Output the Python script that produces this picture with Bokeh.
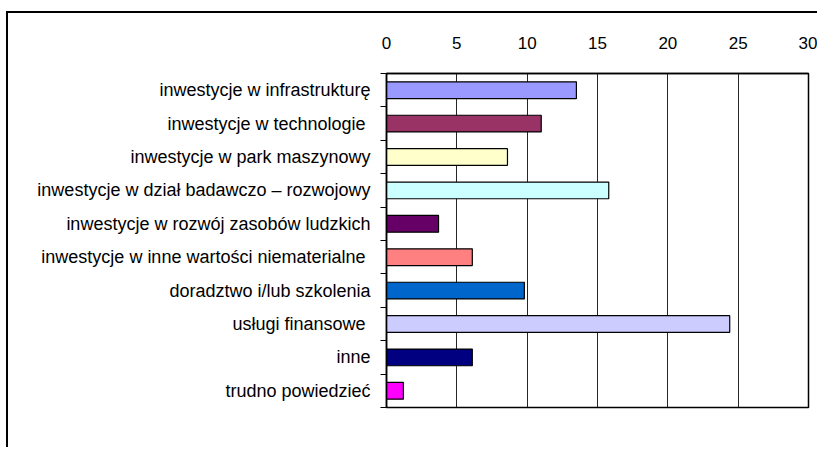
from bokeh.plotting import figure
from bokeh.models import ColumnDataSource, FixedTicker, Range1d
from bokeh.embed import file_html
from bokeh.resources import INLINE

categories = [
    "inwestycje w infrastrukturę",
    "inwestycje w technologie ",
    "inwestycje w park maszynowy",
    "inwestycje w dział badawczo – rozwojowy",
    "inwestycje w rozwój zasobów ludzkich",
    "inwestycje w inne wartości niematerialne ",
    "doradztwo i/lub szkolenia",
    "usługi finansowe ",
    "inne",
    "trudno powiedzieć",
]
values = [13.5, 11.0, 8.6, 15.8, 3.7, 6.1, 9.8, 24.4, 6.1, 1.2]
colors = ["#9999FF", "#993366", "#FFFFCC", "#CCFFFF", "#660066",
          "#FF8080", "#0066CC", "#CCCCFF", "#000080", "#FF00FF"]
x_ticks = [0, 5, 10, 15, 20, 25, 30]

n = len(categories)
pos = list(range(1, n + 1))
src = ColumnDataSource(dict(y=pos, v=values, c=colors, name=categories))

FONT = "Liberation Sans"

p = figure(width=811, height=436, output_backend="svg", toolbar_location=None,
           x_range=Range1d(0, 30), y_range=Range1d(n + 0.5, 0.5),
           x_axis_location="above",
           min_border_left=378, min_border_right=11,
           min_border_top=60, min_border_bottom=42)
# outer chart-area frame: only its top and left edges fall inside the window
p.styles = {"margin-left": "6px", "margin-top": "11px",
            "border-left": "2px solid black", "border-top": "2px solid black"}

p.hbar(y="y", right="v", left=0, height=0.5, source=src,
       fill_color="c", line_color="black", line_width=1.2)

p.outline_line_color = "black"
p.outline_line_width = 1.5

xa = p.xaxis[0]
xa.ticker = FixedTicker(ticks=x_ticks)
xa.major_tick_line_color = None
xa.minor_tick_line_color = None
xa.axis_line_color = "black"
xa.axis_line_width = 1.5
xa.major_label_text_font = FONT
xa.major_label_text_font_size = "17px"
xa.major_label_text_color = "black"
xa.major_label_standoff = 19

ya = p.yaxis[0]
ya.ticker = FixedTicker(ticks=pos, minor_ticks=[i + 0.5 for i in range(n + 1)])
ya.major_label_overrides = {k: lab for k, lab in zip(pos, categories)}
ya.major_tick_line_color = None
ya.major_tick_out = 0
ya.major_tick_in = 0
ya.minor_tick_line_color = "black"
ya.minor_tick_out = 6
ya.minor_tick_in = 0
ya.minor_tick_line_width = 1.2
ya.axis_line_color = "black"
ya.axis_line_width = 1.5
ya.major_label_text_font = FONT
ya.major_label_text_font_size = "18px"
ya.major_label_text_color = "black"
ya.major_label_standoff = 10

p.ygrid.grid_line_color = None
p.xgrid.ticker = FixedTicker(ticks=x_ticks)
p.xgrid.grid_line_color = "black"
p.xgrid.grid_line_width = 1
p.xgrid.grid_line_alpha = 0.85

open("out.html", "w").write(file_html(p, INLINE))
